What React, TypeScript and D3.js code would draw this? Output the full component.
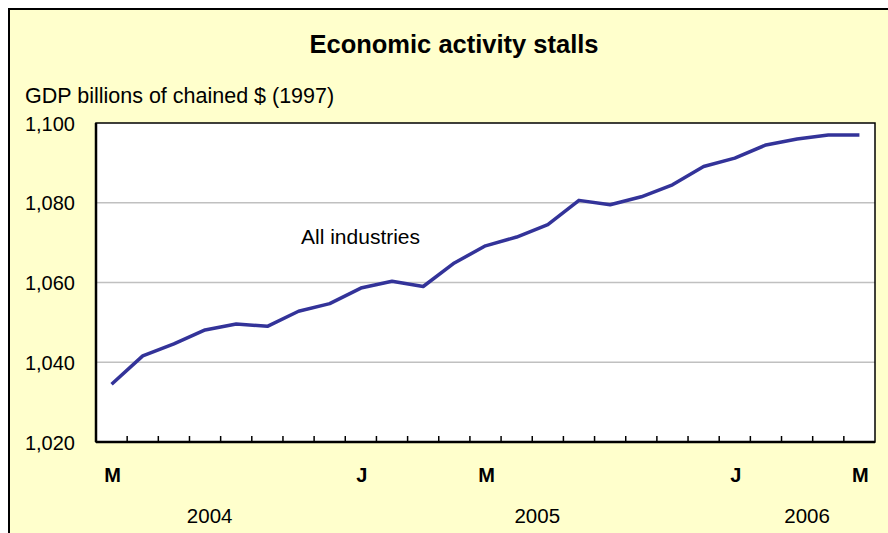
import * as d3 from "d3";

// Monthly GDP, all industries, May 2004 - May 2006
const months = [
  "2004-05", "2004-06", "2004-07", "2004-08", "2004-09", "2004-10", "2004-11", "2004-12",
  "2005-01", "2005-02", "2005-03", "2005-04", "2005-05", "2005-06", "2005-07", "2005-08",
  "2005-09", "2005-10", "2005-11", "2005-12", "2006-01", "2006-02", "2006-03", "2006-04",
  "2006-05",
];
const gdp = [
  1034.5, 1041.6, 1044.6, 1048.1, 1049.6, 1049.0, 1052.8, 1054.7,
  1058.6, 1060.3, 1059.0, 1064.9, 1069.2, 1071.4, 1074.5, 1080.6,
  1079.5, 1081.5, 1084.5, 1089.1, 1091.2, 1094.5, 1096.0, 1097.0,
  1097.0,
];
const yTicks = [1020, 1040, 1060, 1080, 1100];
const monthLabels: Record<string, string> = {
  "2004-05": "M",
  "2005-01": "J",
  "2005-05": "M",
  "2006-01": "J",
  "2006-05": "M",
};
const years = ["2004", "2005", "2006"];

const W = 888;
const H = 533;
const margin = { left: 96, top: 123, right: 13, bottom: 91 };
const FONT = "'Liberation Sans', Arial, sans-serif";

export default function App() {
  const innerW = W - margin.left - margin.right;
  const innerH = H - margin.top - margin.bottom;

  const x = d3.scaleBand<string>().domain(months).range([0, innerW]).padding(0);
  const y = d3.scaleLinear().domain([1020, 1100]).range([innerH, 0]);
  const fmt = d3.format(",");

  const line = d3
    .line<number>()
    .x((_, i) => (x(months[i]) ?? 0) + x.bandwidth() / 2)
    .y((d) => y(d));

  // tick marks sit on the boundaries between months
  const boundaries = months.slice(1).map((m) => x(m) ?? 0);

  // year captions sit roughly under the middle of their months
  const yearNudge: Record<string, number> = { "2004": -11, "2005": 5, "2006": 10 };
  const yearCenter = (yr: string) => {
    const ms = months.filter((m) => m.startsWith(yr));
    const a = x(ms[0]) ?? 0;
    const b = (x(ms[ms.length - 1]) ?? 0) + x.bandwidth();
    return (a + b) / 2 + (yearNudge[yr] ?? 0);
  };

  return (
    <svg
      width={W}
      height={H}
      style={{ position: "absolute", left: 0, top: 0, fontFamily: FONT }}
    >
      <rect width={W} height={H} fill="#ffffff" />
      <rect x={9} y={9} width={W + 20} height={H + 20} fill="#ffffcc" stroke="#000" strokeWidth={2} />

      <text x={454} y={53} textAnchor="middle" fontSize={25.5} fontWeight="bold" fill="#000">
        Economic activity stalls
      </text>
      <text x={25} y={103} fontSize={21.5} fill="#000">
        GDP billions of chained $ (1997)
      </text>

      <g transform={`translate(${margin.left},${margin.top})`}>
        <rect width={innerW} height={innerH} fill="#fff" />

        {yTicks.slice(1, -1).map((t) => (
          <line key={t} x1={0} x2={innerW} y1={y(t)} y2={y(t)} stroke="#c0c0c0" strokeWidth={1.5} />
        ))}

        <rect width={innerW} height={innerH} fill="none" stroke="#000" strokeWidth={1.5} />
        <line x1={0} x2={0} y1={0} y2={innerH} stroke="#000" strokeWidth={2.5} />
        <line x1={0} x2={innerW} y1={innerH} y2={innerH} stroke="#000" strokeWidth={2.5} />

        {boundaries.map((bx, i) => (
          <line key={i} x1={bx} x2={bx} y1={innerH} y2={innerH - 6} stroke="#000" strokeWidth={1.5} />
        ))}

        {yTicks.map((t) => (
          <text key={t} x={-21} y={y(t) + 7.5} textAnchor="end" fontSize={20} fill="#000">
            {fmt(t)}
          </text>
        ))}

        {months
          .filter((m) => monthLabels[m])
          .map((m) => (
            <text
              key={m}
              x={(x(m) ?? 0) + x.bandwidth() / 2 + 1}
              y={innerH + 40}
              textAnchor="middle"
              fontSize={20}
              fontWeight="bold"
              fill="#000"
            >
              {monthLabels[m]}
            </text>
          ))}

        {years.map((yr) => (
          <text key={yr} x={yearCenter(yr)} y={innerH + 81} textAnchor="middle" fontSize={20.5} fill="#000">
            {yr}
          </text>
        ))}

        <path
          d={line(gdp) ?? ""}
          fill="none"
          stroke="#333399"
          strokeWidth={3.5}
          strokeLinejoin="round"
        />

        <text x={205} y={121} fontSize={21} fill="#000">
          All industries
        </text>
      </g>
    </svg>
  );
}
